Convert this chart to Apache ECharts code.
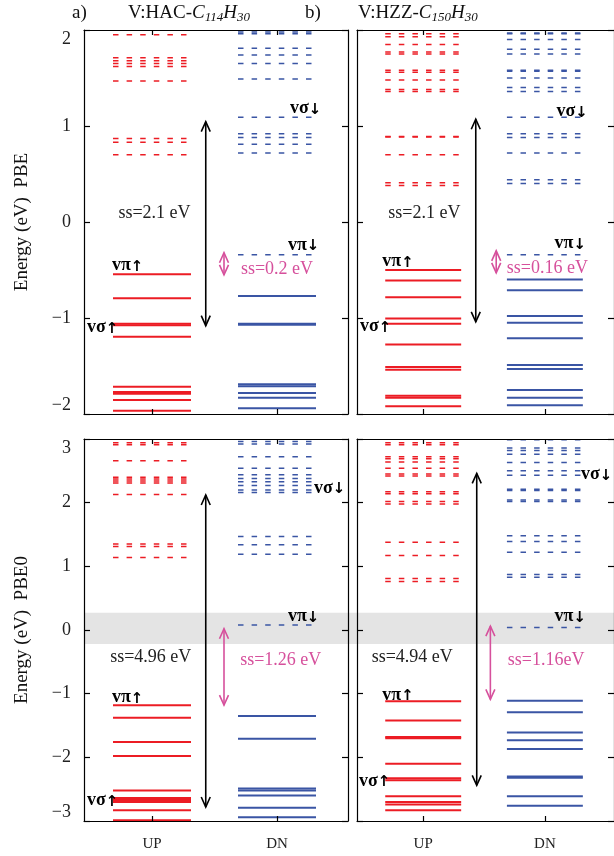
<!DOCTYPE html>
<html><head><meta charset="utf-8">
<script src="https://cdn.jsdelivr.net/npm/echarts@6/dist/echarts.min.js"></script>
<style>html,body{margin:0;padding:0;background:#fff}#c{width:614px;height:856px}</style>
</head><body><div id="c"></div>
<script>
// ---------- categories / ticks ----------
const spinCats = ['UP', 'DN'];
const catPos = [1, 2];
const yRangePBE = [-2, 2];
const yRangePBE0 = [-3, 3];

// ---------- PBE, V:HAC-C114H30 (eV) ----------
const pbeHAC_upOcc  = [-0.545, -0.795, -1.06, -1.075, -1.195, -1.715, -1.77, -1.79, -1.855, -1.965];
const pbeHAC_upVirt = [1.95, 1.71, 1.68, 1.65, 1.62, 1.47, 0.87, 0.83, 0.70];
const pbeHAC_dnOcc  = [-0.77, -1.06, -1.07, -1.69, -1.71, -1.78, -1.83, -1.94];
const pbeHAC_dnVirt = [1.98, 1.96, 1.81, 1.74, 1.65, 1.49, 1.09, 0.92, 0.88, 0.81, 0.72, -0.34];

// ---------- PBE, V:HZZ-C150H30 ----------
const pbeHZZ_upOcc  = [-0.50, -0.61, -0.785, -1.005, -1.06, -1.275, -1.51, -1.54, -1.81, -1.83, -1.92];
const pbeHZZ_upVirt = [1.96, 1.93, 1.85, 1.77, 1.75, 1.58, 1.56, 1.48, 1.38, 1.36, 0.89, 0.885, 0.70, 0.41, 0.38];
const pbeHZZ_dnOcc  = [-0.60, -0.71, -0.98, -1.05, -1.21, -1.49, -1.53, -1.75, -1.83, -1.91];
const pbeHZZ_dnVirt = [1.97, 1.96, 1.90, 1.80, 1.75, 1.58, 1.57, 1.50, 1.40, 1.36, 1.09, 0.92, 0.88, 0.72, 0.44, 0.40, -0.34];

// ---------- PBE0, V:HAC-C114H30 ----------
const pbe0HAC_upOcc  = [-1.18, -1.38, -1.76, -1.98, -2.52, -2.64, -2.67, -2.70, -2.83, -2.99];
const pbe0HAC_upVirt = [2.94, 2.91, 2.66, 2.40, 2.37, 2.34, 2.31, 2.13, 1.35, 1.31, 1.14];
const pbe0HAC_dnOcc  = [-1.35, -1.71, -2.49, -2.52, -2.60, -2.79, -2.94];
const pbe0HAC_dnVirt = [2.96, 2.92, 2.72, 2.54, 2.44, 2.38, 2.33, 2.27, 2.20, 2.16, 1.47, 1.34, 1.19, 0.08];

// ---------- PBE0, V:HZZ-C150H30 ----------
const pbe0HZZ_upOcc  = [-1.12, -1.42, -1.68, -1.70, -2.10, -2.33, -2.36, -2.61, -2.70, -2.74, -2.83];
const pbe0HZZ_upVirt = [2.94, 2.91, 2.72, 2.69, 2.64, 2.54, 2.45, 2.42, 2.17, 2.14, 2.02, 1.98, 1.38, 1.17, 0.81, 0.76];
const pbe0HZZ_dnOcc  = [-1.11, -1.29, -1.61, -1.73, -1.87, -2.30, -2.32, -2.61, -2.76];
const pbe0HZZ_dnVirt = [2.99, 2.86, 2.82, 2.76, 2.63, 2.50, 2.43, 2.21, 2.19, 2.04, 2.02, 1.48, 1.39, 1.22, 0.87, 0.83, 0.04];

// ---------- gap arrows [x, from, to]: black (total), pink (spin) ----------
const pbeHAC_arrows  = [[1.43, -1.08, 1.045], [1.576, -0.55, -0.32]];
const pbeHZZ_arrows  = [[1.432, -1.04, 1.07], [1.60, -0.53, -0.30]];
const pbe0HAC_arrows = [[1.43, -2.78, 2.12], [1.576, -1.18, 0.02]];
const pbe0HZZ_arrows = [[1.44, -2.44, 2.46], [1.552, -1.09, 0.06]];

// ---------- gap texts [x, y, text]: black, pink ----------
const pbeHAC_ss  = [[1.02, 0.09, 'ss=2.1 eV'], [2.0, -0.49, 'ss=0.2 eV']];
const pbeHZZ_ss  = [[1.01, 0.09, 'ss=2.1 eV'], [2.02, -0.48, 'ss=0.16 eV']];
const pbe0HAC_ss = [[0.99, -0.435, 'ss=4.96 eV'], [2.03, -0.47, 'ss=1.26 eV']];
const pbe0HZZ_ss = [[0.91, -0.435, 'ss=4.94 eV'], [2.01, -0.47, 'ss=1.16eV']];

// ---------- state tags [x, y, greek, spin] ----------
const pbeHAC_tags  = [[0.68, -0.45, 'π', '↑'], [0.48, -1.10, 'σ', '↑'], [2.104, 1.18, 'σ', '↓'], [2.088, -0.24, 'π', '↓']];
const pbeHZZ_tags  = [[0.664, -0.41, 'π', '↑'], [0.48, -1.09, 'σ', '↑'], [2.096, 1.15, 'σ', '↓'], [2.08, -0.22, 'π', '↓']];
const pbe0HAC_tags = [[0.68, -1.06, 'π', '↑'], [0.48, -2.68, 'σ', '↑'], [2.296, 2.23, 'σ', '↓'], [2.088, 0.21, 'π', '↓']];
const pbe0HZZ_tags = [[0.664, -1.02, 'π', '↑'], [0.472, -2.37, 'σ', '↑'], [2.296, 2.44, 'σ', '↓'], [2.08, 0.21, 'π', '↓']];

// ---------- highlighted window (PBE0) ----------
const pbe0Window = [-0.22, 0.27];

// ================= drawing =================
const X_MIN = 0.456, X_MAX = 2.568, HALF = 0.312;
const RED = '#ec1c24', BLUE = '#3a55a4', PINK = '#d6509c';
const SERIF = "'Liberation Serif','DejaVu Serif',serif";

const panels = [
  {grid:{left:84, top:30, width:264, height:384}, yr:yRangePBE, yLab:true, xLab:false, name:'Energy (eV)  PBE',
   up:[pbeHAC_upOcc, pbeHAC_upVirt], dn:[pbeHAC_dnOcc, pbeHAC_dnVirt], arrows:pbeHAC_arrows, ss:pbeHAC_ss, tags:pbeHAC_tags, band:null, gapRight:false},
  {grid:{left:357, top:30, width:264, height:384}, yr:yRangePBE, yLab:false, xLab:false, name:'',
   up:[pbeHZZ_upOcc, pbeHZZ_upVirt], dn:[pbeHZZ_dnOcc, pbeHZZ_dnVirt], arrows:pbeHZZ_arrows, ss:pbeHZZ_ss, tags:pbeHZZ_tags, band:null, gapRight:false},
  {grid:{left:84, top:439, width:264, height:382}, yr:yRangePBE0, yLab:true, xLab:true, name:'Energy (eV)  PBE0',
   up:[pbe0HAC_upOcc, pbe0HAC_upVirt], dn:[pbe0HAC_dnOcc, pbe0HAC_dnVirt], arrows:pbe0HAC_arrows, ss:pbe0HAC_ss, tags:pbe0HAC_tags, band:pbe0Window, gapRight:true},
  {grid:{left:357, top:439, width:264, height:382}, yr:yRangePBE0, yLab:false, xLab:true, name:'',
   up:[pbe0HZZ_upOcc, pbe0HZZ_upVirt], dn:[pbe0HZZ_dnOcc, pbe0HZZ_dnVirt], arrows:pbe0HZZ_arrows, ss:pbe0HZZ_ss, tags:pbe0HZZ_tags, band:pbe0Window, gapRight:false}
];
const GAP = 357 - (84 + 264);

function levelRender(dashed, color) {
  return function (params, api) {
    const x = api.value(0), e = api.value(1);
    const p0 = api.coord([x - HALF, e]);
    const p1 = api.coord([x + HALF, e]);
    return {type:'line', shape:{x1:p0[0], y1:p0[1], x2:p1[0], y2:p1[1]},
      style:{stroke:color, lineWidth: dashed ? 1.5 : 2, lineDash: dashed ? [5.5, 8.1] : null}};
  };
}
function arrowRender(params, api) {
  const x = api.value(0);
  const a = api.coord([x, api.value(1)]);
  const b = api.coord([x, api.value(2)]);
  const col = params.dataIndex === 0 ? '#000' : PINK;
  const lw = 1.6, hw = 4.5, hl = 10;
  const st = {stroke:col, lineWidth:lw, fill:null};
  return {type:'group', children:[
    {type:'line', shape:{x1:a[0], y1:a[1], x2:b[0], y2:b[1]}, style:st},
    {type:'polyline', shape:{points:[[a[0]-hw, a[1]-hl], [a[0], a[1]], [a[0]+hw, a[1]-hl]]}, style:st},
    {type:'polyline', shape:{points:[[b[0]-hw, b[1]+hl], [b[0], b[1]], [b[0]+hw, b[1]+hl]]}, style:st}
  ]};
}
function bandRender(extendRight) {
  return function (params, api) {
    const cs = params.coordSys;
    const top = api.coord([X_MIN, api.value(1)])[1];
    const bot = api.coord([X_MIN, api.value(0)])[1];
    return {type:'rect', shape:{x:cs.x, y:top, width:cs.width + (extendRight ? GAP : 0), height:bot - top},
      style:{fill:'#e4e4e4'}};
  };
}

const grid = [], xAxis = [], yAxis = [], series = [];
panels.forEach((p, i) => {
  grid.push(Object.assign({containLabel:false}, p.grid));
  const axLine = {show:true, onZero:false, lineStyle:{color:'#000', width:1.2}};
  const xBase = {type:'value', gridIndex:i, min:X_MIN, max:X_MAX, splitLine:{show:false}, z:5,
    axisLine:axLine, axisTick:{show:true, inside:true, length:5, customValues:catPos, lineStyle:{color:'#000', width:1.2}}};
  xAxis.push(Object.assign({}, xBase, {position:'bottom',
    axisLabel:{show:p.xLab, customValues:catPos, formatter:v => spinCats[catPos.indexOf(v)] || '',
      margin:16, fontFamily:SERIF, fontSize:15, color:'#222'}}));
  xAxis.push(Object.assign({}, xBase, {position:'top', axisLabel:{show:false}}));
  const yBase = {type:'value', gridIndex:i, min:p.yr[0], max:p.yr[1], interval:1, splitLine:{show:false}, z:5,
    axisLine:axLine, axisTick:{show:true, inside:true, length:6, lineStyle:{color:'#000', width:1.2}}};
  yAxis.push(Object.assign({}, yBase, {position:'left',
    name:p.name, nameLocation:'middle', nameGap:52,
    nameTextStyle:{fontFamily:SERIF, fontSize:19, color:'#111'},
    axisLabel:{show:p.yLab, margin:13, fontFamily:SERIF, fontSize:18, color:'#222',
      verticalAlignMaxLabel:'top', verticalAlignMinLabel:'bottom',
      formatter:v => v < 0 ? '\u2212' + (-v) : String(v)}}));
  yAxis.push(Object.assign({}, yBase, {position:'right', axisLabel:{show:false}}));
  const xi = 2 * i, yi = 2 * i;
  const common = {xAxisIndex:xi, yAxisIndex:yi, silent:true};
  if (p.band) {
    series.push(Object.assign({type:'custom', clip:false, z:1, data:[[p.band[0], p.band[1]]],
      renderItem:bandRender(p.gapRight), encode:{y:[0,1]}}, common));
  }
  [[p.up, 0, RED], [p.dn, 1, BLUE]].forEach(([arrs, ci, col]) => {
    series.push(Object.assign({type:'custom', clip:false, z:3, renderItem:levelRender(false, col),
      data:arrs[0].map(e => [catPos[ci], e])}, common));
    series.push(Object.assign({type:'custom', clip:false, z:3, renderItem:levelRender(true, col),
      data:arrs[1].map(e => [catPos[ci], e])}, common));
  });
  series.push(Object.assign({type:'custom', clip:false, z:4, renderItem:arrowRender,
    data:p.arrows, encode:{x:0, y:[1,2]}}, common));

  // gap texts
  const ssStyles = p.ss.map((d, k) => ({text:d[2], font:'18px ' + SERIF, fill: k === 0 ? '#222' : PINK,
    align:'center', verticalAlign:'middle'}));
  series.push(Object.assign({type:'custom', clip:false, z:6, data:p.ss.map(d => [d[0], d[1]]),
    renderItem:(params, api) => {
      const pt = api.coord([api.value(0), api.value(1)]);
      return {type:'text', x:pt[0], y:pt[1], style:ssStyles[params.dataIndex]};
    }}, common));
  // state tags
  const tagRich = {
    b:{fontFamily:SERIF, fontSize:18, fontWeight:'bold', fill:'#000', lineHeight:18},
    a:{fontFamily:'DejaVu Sans', fontSize:15, fontWeight:'bold', fill:'#000', verticalAlign:'bottom', lineHeight:10}
  };
  series.push(Object.assign({type:'custom', clip:false, z:6, data:p.tags.map(t => [t[0], t[1]]),
    renderItem:(params, api) => {
      const pt = api.coord([api.value(0), api.value(1)]);
      const t = p.tags[params.dataIndex];
      return {type:'text', x:pt[0], y:pt[1], style:{text:'{b|v' + t[2] + '}{a|' + t[3] + '}',
        rich:tagRich, align:'left', verticalAlign:'middle', fill:'#000'}};
    }}, common));
});

const titleRich = {
  n:{fontFamily:SERIF, fontSize:19, fontWeight:'normal', color:'#111', lineHeight:22},
  i:{fontFamily:SERIF, fontSize:19, fontWeight:'normal', fontStyle:'italic', color:'#111', lineHeight:22},
  s:{fontFamily:SERIF, fontSize:13, fontWeight:'normal', fontStyle:'italic', color:'#111', verticalAlign:'bottom', lineHeight:12}
};
const titles = [
  {text:'{n|a)}', left:72, top:2},
  {text:'{n|V:HAC-}{i|C}{s|114}{i|H}{s|30}', left:128, top:2},
  {text:'{n|b)}', left:305, top:2},
  {text:'{n|V:HZZ-}{i|C}{s|150}{i|H}{s|30}', left:358, top:2}
].map(t => Object.assign({padding:0, textStyle:{fontWeight:'normal', rich:titleRich}}, t));

const chart = echarts.init(document.getElementById('c'), null, {renderer:'canvas'});
chart.setOption({animation:false, backgroundColor:'#fff', title:titles, grid, xAxis, yAxis, series});
</script></body></html>
